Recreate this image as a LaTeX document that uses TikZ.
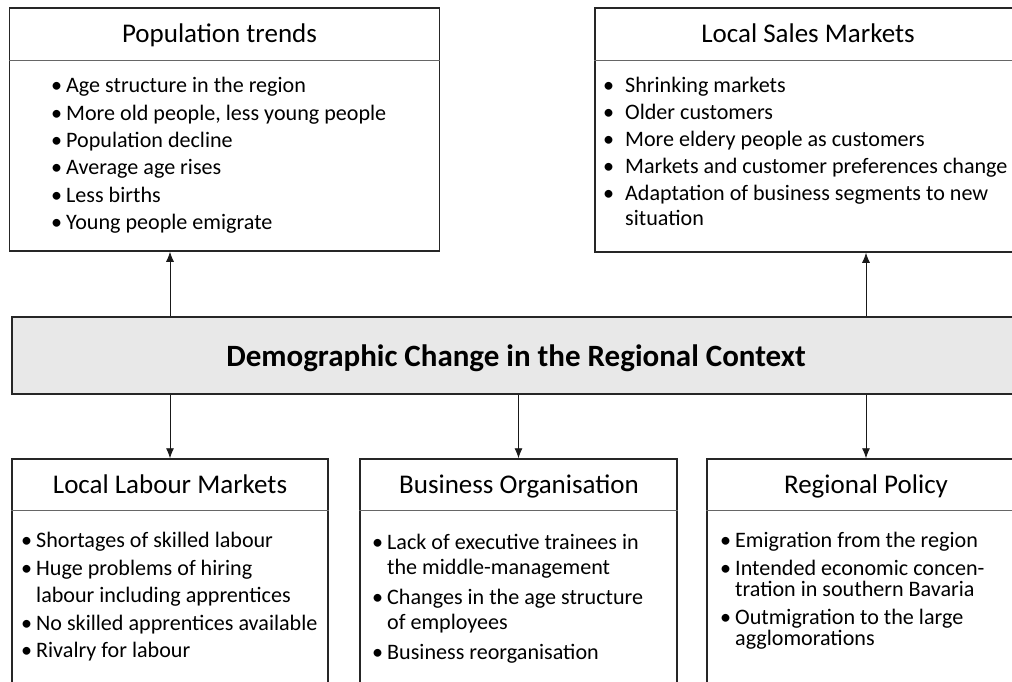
\documentclass[tikz,border=0pt]{standalone}
\usepackage{fontspec}
\setmainfont{Carlito}
\usetikzlibrary{arrows.meta}

\newlength{\bhang}
\setlength{\bhang}{15pt}
\newcommand{\bitem}[1]{\par\hangindent=\bhang\hangafter=1\noindent\makebox[\bhang][l]{\textbullet}#1}
\newcommand{\bcont}[1]{\par\hangindent=\bhang\hangafter=0\noindent #1}
\newcommand{\listsize}[2]{\fontsize{22.1}{#1}\selectfont\setlength{\parskip}{#2}}

\begin{document}
\begin{tikzpicture}[x=1pt,y=-1pt,
    frame/.style={draw=black!85, line width=1.5pt, rectangle, inner sep=0pt},
    divider/.style={draw=black!60, line width=0.9pt},
    headtext/.style={font=\fontsize{27}{30}\selectfont, inner sep=0pt, anchor=base},
    bodytext/.style={text width=#1, align=flush left, anchor=north west, inner sep=0pt},
    link/.style={-{Latex[length=10pt,width=8pt]}, line width=0.8pt, black!90}]

        \useasboundingbox (0,0) rectangle (1012,682);
        \clip (0,0) rectangle (1012,682);

        % Boxes
        \node[frame, minimum width=430, minimum height=243] (popbox) at (224.5,129.5) {};
        \node[frame, minimum width=428, minimum height=244] (salesbox) at (809,130) {};
        \node[frame, fill=black!9, minimum width=1008, minimum height=77] (demo) at (516,355.5) {};
        \node[frame, minimum width=316, minimum height=251] (labourbox) at (170,584.5) {};
        \node[frame, minimum width=317, minimum height=251] (busbox) at (518.5,584.5) {};
        \node[frame, minimum width=318, minimum height=251] (polbox) at (866,584.5) {};

        % Header dividers
        \draw[divider] (popbox.west |- 0,60) -- (popbox.east |- 0,60);
        \draw[divider] (salesbox.west |- 0,60) -- (salesbox.east |- 0,60);
        \draw[divider] (labourbox.west |- 0,510) -- (labourbox.east |- 0,510);
        \draw[divider] (busbox.west |- 0,510) -- (busbox.east |- 0,510);
        \draw[divider] (polbox.west |- 0,510) -- (polbox.east |- 0,510);

        % Headers
        \node[headtext] (poptitle) at (219.5,43) {Population trends};
        \node[headtext] (salestitle) at (808,43) {Local Sales Markets};
        \node[headtext] (labourtitle) at (170,493) {Local Labour Markets};
        \node[headtext] (bustitle) at (519,493) {Business Organisation};
        \node[headtext] (poltitle) at (866,493) {Regional Policy};
        \node[font=\fontsize{31}{34}\selectfont\bfseries, inner sep=0pt, anchor=base] (demotitle) at (516,366) {Demographic Change in the Regional Context};

        % Bullet lists
        \node[bodytext=380, font=\listsize{22}{5.3pt}] (poplist) at (51,65.5) {%
            \bitem{Age structure in the region}
            \bitem{More old people, less young people}
            \bitem{Population decline}
            \bitem{Average age rises}
            \bitem{Less births}
            \bitem{Young people emigrate}\par};
        \node[bodytext=420, font={\listsize{25}{2pt}\setlength{\bhang}{22pt}}] (saleslist) at (603,65) {%
            \bitem{Shrinking markets}
            \bitem{Older customers}
            \bitem{More eldery people as customers}
            \bitem{Markets and customer preferences change}
            \bitem{Adaptation of business segments to new\newline situation}\par};
        \node[bodytext=305, font=\listsize{27.5}{0pt}] (labourlist) at (21,520) {%
            \bitem{Shortages of skilled labour}
            \bitem{Huge problems of hiring}
            \bcont{labour including apprentices}
            \bitem{No skilled apprentices available}
            \bitem{Rivalry for labour}\par};
        \node[bodytext=305, font=\listsize{25}{5pt}] (buslist) at (372,519) {%
            \bitem{Lack of executive trainees in\newline the middle-management}
            \bitem{Changes in the age structure\newline of employees}
            \bitem{Business reorganisation}\par};
        \node[bodytext=305, font=\listsize{21}{7pt}] (pollist) at (720,519) {%
            \bitem{Emigration from the region}
            \bitem{Intended economic concen-\newline tration in southern Bavaria}
            \bitem{Outmigration to the large\newline agglomorations}\par};

        % Connectors
        \draw[link] (demo.north -| labourbox.north) -- (labourbox.north |- popbox.south);
        \draw[link] (demo.north -| polbox.north) -- (polbox.north |- salesbox.south);
        \draw[link] (demo.south -| labourbox.north) -- (labourbox.north);
        \draw[link] (demo.south -| busbox.north) -- (busbox.north);
        \draw[link] (demo.south -| polbox.north) -- (polbox.north);
    \end{tikzpicture}
\end{document}
